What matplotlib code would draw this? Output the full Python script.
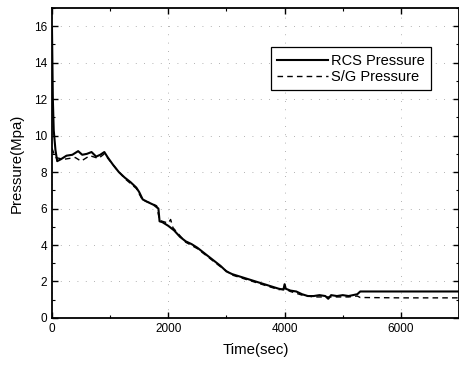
import matplotlib
matplotlib.use("Agg")
import matplotlib.pyplot as plt
from matplotlib.ticker import MultipleLocator

plt.rcParams['font.family'] = ['Liberation Sans', 'DejaVu Sans']

# RCS pressure history (time in s, pressure in MPa)
rcs_time = [0, 15, 30, 60, 90, 150, 250, 350, 450, 520, 600, 680, 760, 830, 900, 960,
            1050, 1150, 1250, 1350, 1450, 1500, 1560, 1650, 1750, 1830, 1850, 1900,
            2000, 2100, 2200, 2300, 2400, 2500, 2600, 2700, 2800, 2900, 3000, 3100,
            3200, 3300, 3400, 3500, 3600, 3700, 3800, 3900, 3980, 4000, 4020, 4100,
            4200, 4300, 4400, 4500, 4600, 4700, 4750, 4800, 4900, 5000, 5100, 5250,
            5300, 5500, 6000, 7000]
rcs_pressure = [15.9, 12.0, 10.3, 9.2, 8.6, 8.7, 8.9, 8.95, 9.15, 8.95, 9.0, 9.1, 8.85,
                8.95, 9.1, 8.8, 8.4, 8.0, 7.7, 7.45, 7.15, 6.9, 6.5, 6.35, 6.2, 6.0,
                5.3, 5.25, 5.05, 4.8, 4.45, 4.2, 4.05, 3.85, 3.6, 3.35, 3.1, 2.85,
                2.55, 2.4, 2.3, 2.2, 2.1, 2.0, 1.9, 1.8, 1.7, 1.6, 1.55, 1.85, 1.6,
                1.5, 1.45, 1.3, 1.2, 1.2, 1.25, 1.2, 1.05, 1.25, 1.2, 1.25, 1.2, 1.3,
                1.45, 1.45, 1.45, 1.45]

# Steam generator pressure history
sg_time = [0, 60, 200, 400, 500, 650, 800, 900, 1000, 1100, 1250, 1450, 1560, 1700,
           1800, 1850, 2000, 2040, 2080, 2300, 2500, 2700, 2900, 3100, 3300, 3500,
           3700, 3900, 4000, 4100, 4300, 4500, 4700, 4900, 5100, 5250, 5300, 6000, 7000]
sg_pressure = [9.3, 8.8, 8.7, 8.8, 8.6, 8.9, 8.75, 9.0, 8.6, 8.2, 7.65, 7.1, 6.45, 6.3,
               6.15, 5.35, 5.2, 5.4, 4.95, 4.15, 3.8, 3.3, 2.8, 2.35, 2.15, 1.95, 1.75,
               1.55, 1.6, 1.45, 1.25, 1.15, 1.15, 1.15, 1.15, 1.2, 1.12, 1.1, 1.1]

x_ticks = [0, 2000, 4000, 6000]
y_ticks = [0, 2, 4, 6, 8, 10, 12, 14, 16]

fig = plt.figure(figsize=(4.6, 3.65), dpi=100)
ax = fig.add_axes([0.113, 0.129, 0.885, 0.849])

ax.plot(rcs_time, rcs_pressure, color='black', lw=1.5, label='RCS Pressure')
ax.plot(sg_time, sg_pressure, color='black', lw=1.0, ls=(0, (4, 3)), label='S/G Pressure')

ax.set_xlim(0, 7000)
ax.set_ylim(0, 17)
ax.set_xticks(x_ticks)
ax.set_yticks(y_ticks)
ax.xaxis.set_minor_locator(MultipleLocator(1000))
ax.yaxis.set_minor_locator(MultipleLocator(1))
ax.tick_params(which='both', direction='in', top=True, right=True, labelsize=8.5,
               color='black')
ax.tick_params(which='major', length=4, width=1)
ax.tick_params(which='minor', length=2, width=0.8)
for s in ax.spines.values():
    s.set_linewidth(1.3)

ax.grid(True, which='major', color='#999999', lw=0.6, ls=(0, (1, 9)))

ax.set_xlabel('Time(sec)', fontsize=10.8, labelpad=6)
ax.set_ylabel('Pressure(Mpa)', fontsize=10.8, labelpad=7)

leg = ax.legend(loc='upper right', bbox_to_anchor=(0.931, 0.874), fontsize=10.5,
                frameon=True, fancybox=False, edgecolor='black', framealpha=1,
                handlelength=3.5, handletextpad=0.15, borderpad=0.45,
                labelspacing=0.15, borderaxespad=0)
leg.get_frame().set_linewidth(0.9)

fig.savefig('out.png', dpi=100)
